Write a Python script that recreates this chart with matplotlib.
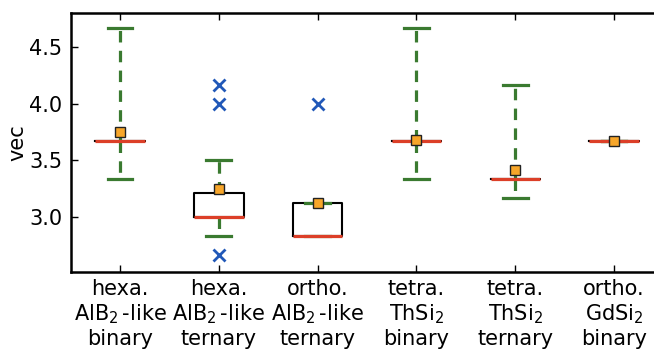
import matplotlib
matplotlib.use("Agg")
import matplotlib.pyplot as plt

# Structure groups and their valence-electron-count summaries
labels = [
    "hexa.\nAlB$_2\\,$-like\nbinary",
    "hexa.\nAlB$_2\\,$-like\nternary",
    "ortho.\nAlB$_2\\,$-like\nternary",
    "tetra.\nThSi$_2$\nbinary",
    "tetra.\nThSi$_2$\nternary",
    "ortho.\nGdSi$_2$\nbinary",
]
q1 = [3.667, 3.0, 2.833, 3.667, 3.333, 3.667]
med = [3.667, 3.0, 2.833, 3.667, 3.333, 3.667]
q3 = [3.667, 3.208, 3.125, 3.667, 3.333, 3.667]
whislo = [3.333, 2.833, 2.833, 3.333, 3.167, 3.667]
whishi = [4.667, 3.5, 3.125, 4.667, 4.167, 3.667]
means = [3.75, 3.25, 3.125, 3.683, 3.417, 3.667]
fliers = [[], [4.167, 4.0, 2.667], [4.0], [], [], []]

GREEN = "#3a7a30"
RED = "#dc3f28"
ORANGE = "#f7a62a"
BLUE = "#2158b8"

stats = [
    dict(label=lab, q1=a, med=m, q3=b, whislo=lo, whishi=hi, mean=mu, fliers=fl)
    for lab, a, m, b, lo, hi, mu, fl in zip(labels, q1, med, q3, whislo, whishi, means, fliers)
]

fig = plt.figure(figsize=(6.54, 3.53), dpi=100)
ax = fig.add_axes([0.108, 0.2295, 0.9064, 0.7337])

ax.bxp(
    stats,
    widths=0.5,
    showmeans=True,
    boxprops=dict(color="black", linewidth=1.5, zorder=2),
    whiskerprops=dict(color=GREEN, linewidth=2.3, linestyle=(0, (3.6, 2.6)), zorder=2),
    capprops=dict(color=GREEN, linewidth=2.3, zorder=2.5),
    medianprops=dict(color=RED, linewidth=2.3, zorder=3),
    meanprops=dict(marker="s", markerfacecolor=ORANGE, markeredgecolor="#222222",
                   markeredgewidth=1.0, markersize=7.5, zorder=4),
    flierprops=dict(marker="x", markeredgecolor=BLUE, markersize=8,
                    markeredgewidth=2.0, linestyle="none"),
)

ax.set_xlim(0.5, 6.5)
ax.set_ylim(2.515, 4.80)
ax.set_yticks([3.0, 3.5, 4.0, 4.5])
ax.set_ylabel("vec", fontsize=15, labelpad=1)
ax.tick_params(axis="both", which="major", direction="in", length=5, width=1,
               top=True, right=False, labelsize=15, pad=6)
ax.tick_params(axis="x", pad=5)
for lab in ax.get_xticklabels():
    lab.set_linespacing(1.2)
for name, sp in ax.spines.items():
    sp.set_linewidth(1.8)
ax.spines["right"].set_visible(False)

fig.savefig("out.png", dpi=100)
